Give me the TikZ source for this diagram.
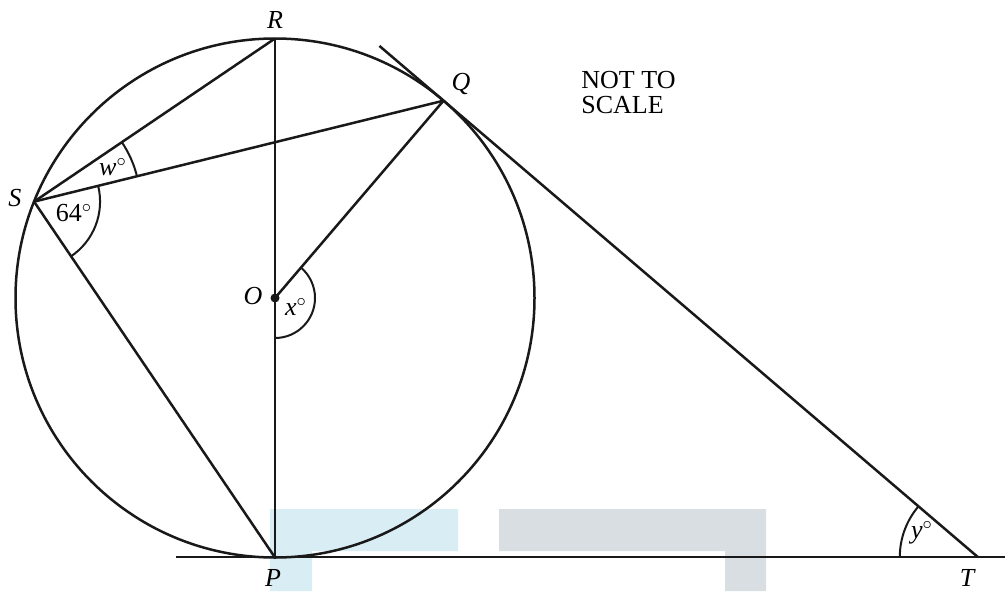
\documentclass[tikz,border=0pt]{standalone}
\usepackage{fontspec}
\setmainfont{Liberation Serif}
\usetikzlibrary{angles,calc}
\definecolor{wmblue}{RGB}{216,238,244}
\definecolor{wmgrey}{RGB}{217,222,227}
\newcommand{\dg}{$^{\circ}$}

\begin{document}
\begin{tikzpicture}[x=0.5pt, y=0.5pt,
    every node/.style={font=\fontsize{13}{12.5}\selectfont},
    geo/.style={line width=1.25pt, black!90},
    angarc/.style={draw, line width=1pt, black!90},
    ptlbl/.style={font=\fontsize{13}{12.5}\selectfont\itshape, inner sep=0pt},
    anglbl/.style={inner sep=0pt}
]
    \useasboundingbox (0,0) rectangle (1007,591);
    % shaded blocks at the bottom
    \fill[wmblue] (270,82) -- (458,82) -- (458,40) -- (312,40) -- (312,0) -- (270,0) -- cycle;
    \fill[wmgrey] (499,82) -- (766,82) -- (766,0) -- (725,0) -- (725,40) -- (499,40) -- cycle;

    % points
    \coordinate (O) at (275,293);
    \coordinate (R) at ($(O)+(90:259.5)$);
    \coordinate (P) at ($(O)+(-90:259.5)$);
    \coordinate (Q) at ($(O)+(49.5:259.5)$);
    \coordinate (S) at ($(O)+(158.2:259.5)$);
    \coordinate (Lft) at (176,34);
    \coordinate (Rgt) at (1005,34);
    \coordinate (Qdir) at ($(Q)!1!-90:(O)$);
    \coordinate (T) at (intersection of Q--Qdir and Lft--Rgt);
    \coordinate (Tend) at ($(T)!1.12!(Q)$);

    % circle and lines
    \draw[geo] (O) circle (259.5);
    \draw[geo] (Lft) -- (Rgt);
    \draw[geo] (T) -- (Tend);
    \draw[geo] (R) -- (P);
    \draw[geo] (S) -- (R);
    \draw[geo] (S) -- (Q);
    \draw[geo] (S) -- (P);
    \draw[geo] (O) -- (Q);
    \fill[black!90] (O) circle (4.5);

    % angles
    \pic[angarc, angle radius=33pt] {angle=P--S--Q};
    \pic[angarc, angle radius=53pt] {angle=Q--S--R};
    \pic[angarc, angle radius=20pt] {angle=P--O--Q};
    \pic[angarc, angle radius=39pt] {angle=Q--T--Lft};

    % labels
    \node[ptlbl] (lR) at (275,571) {R};
    \node[ptlbl] (lQ) at (461,507) {Q};
    \node[ptlbl] (lS) at (15,393) {S};
    \node[ptlbl] (lO) at (253,295) {O};
    \node[ptlbl] (lP) at (273,13) {P};
    \node[ptlbl] (lT) at (967,13) {T};
    \node[anglbl] (aw) at (113,424) {\textit{w}\dg};
    \node[anglbl] (a64) at (74,378) {64\dg};
    \node[anglbl] (ax) at (296,284) {\textit{x}\dg};
    \node[anglbl] (ay) at (922,58) {\textit{y}\dg};
    \node[anchor=west, align=left, inner sep=0pt] (note) at (581,498) {NOT TO\\SCALE};
\end{tikzpicture}
\end{document}
